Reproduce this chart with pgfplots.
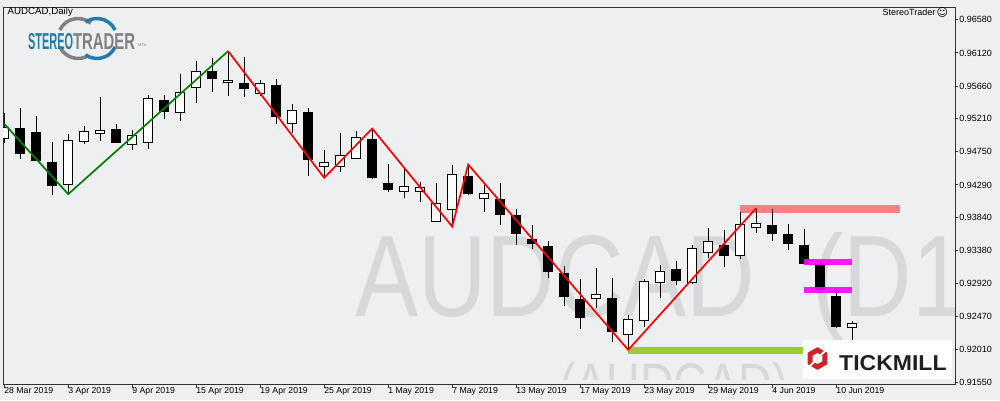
\documentclass[border=0pt]{standalone}
\usepackage{fontspec}
\setmainfont{Liberation Sans}
\newfontfamily\dejavu{DejaVu Sans}
\usepackage{pgfplots}
\usepackage{pgfplotstable}
\pgfplotsset{compat=1.18}
\definecolor{bg}{RGB}{238,239,241}
\definecolor{axc}{RGB}{50,50,50}
\definecolor{wm}{RGB}{214,216,217}
\definecolor{zzgreen}{RGB}{0,128,0}
\definecolor{salmon}{RGB}{255,128,128}
\definecolor{limeg}{RGB}{154,205,50}
\definecolor{stblue}{RGB}{38,124,168}
\definecolor{stgray}{RGB}{128,128,128}
\definecolor{tmred}{RGB}{205,35,45}
\definecolor{tmtext}{RGB}{35,31,32}
\definecolor{magb}{RGB}{255,0,255}

\pgfplotstableread{
i O H L C
0 0.94939 0.95290 0.94874 0.95086
4 0.94301 0.94995 0.94167 0.94912
5 0.94898 0.95110 0.94864 0.95036
6 0.95009 0.95512 0.94906 0.95050
8 0.94846 0.95054 0.94773 0.94981
9 0.94884 0.95540 0.94795 0.95494
11 0.95300 0.95827 0.95179 0.95577
12 0.95647 0.96011 0.95433 0.95868
14 0.95716 0.96150 0.95522 0.95744
16 0.95563 0.95748 0.95526 0.95702
18 0.95147 0.95411 0.95017 0.95328
20 0.94551 0.94777 0.94389 0.94606
21 0.94551 0.95013 0.94476 0.94704
22 0.94662 0.95036 0.94648 0.94953
25 0.94204 0.94509 0.94116 0.94274
26 0.94204 0.94333 0.94060 0.94260
27 0.93788 0.94324 0.93788 0.94038
28 0.93955 0.94565 0.93713 0.94440
30 0.94107 0.94292 0.93917 0.94171
37 0.92720 0.93141 0.92590 0.92776
39 0.92216 0.92485 0.92003 0.92429
40 0.92415 0.92988 0.92322 0.92946
41 0.92942 0.93182 0.92729 0.93095
43 0.92942 0.93460 0.92923 0.93414
44 0.93349 0.93695 0.93283 0.93511
46 0.93307 0.93917 0.93270 0.93747
47 0.93695 0.93963 0.93630 0.93755
53 0.92318 0.92406 0.92119 0.92374
}\whites

\pgfplotstableread{
i O H L C
1 0.95078 0.95360 0.94656 0.94726
2 0.95013 0.95249 0.94625 0.94629
3 0.94597 0.94888 0.94157 0.94287
7 0.95054 0.95138 0.94878 0.94878
10 0.95466 0.95536 0.95211 0.95314
13 0.95859 0.96057 0.95586 0.95766
15 0.95692 0.96067 0.95516 0.95633
17 0.95665 0.95766 0.95142 0.95239
19 0.95290 0.95360 0.94421 0.94643
23 0.94916 0.95072 0.94379 0.94393
24 0.94306 0.94583 0.94195 0.94232
29 0.94403 0.94573 0.94149 0.94171
31 0.94093 0.94319 0.93741 0.93880
32 0.93862 0.93959 0.93464 0.93616
33 0.93539 0.93737 0.93408 0.93478
34 0.93432 0.93515 0.93002 0.93089
35 0.93067 0.93168 0.92614 0.92743
36 0.92697 0.92988 0.92299 0.92451
38 0.92720 0.93002 0.92119 0.92257
42 0.93113 0.93238 0.92909 0.92965
45 0.93455 0.93668 0.93159 0.93307
48 0.93733 0.93963 0.93515 0.93622
49 0.93608 0.93751 0.93390 0.93478
50 0.93446 0.93686 0.93206 0.93206
51 0.93192 0.93238 0.92808 0.92845
52 0.92748 0.92845 0.92313 0.92327
}\blacks

\begin{document}
\begin{tikzpicture}[x=1pt,y=1pt]
\useasboundingbox (0,0) rectangle (1000,400);
\fill[bg] (0,0) rectangle (1000,400);
% watermark
\begin{scope}
\clip (2,21) rectangle (954,398);
\node[anchor=base west, inner sep=0pt, text=wm, font=\fontsize{116}{116}\selectfont, xscale=0.817] at (355,84) {AUDCAD};
\node[anchor=base west, inner sep=0pt, text=wm, font=\fontsize{116}{116}\selectfont, xscale=0.817] at (812,84) {(D1};
\node[anchor=base west, inner sep=0pt, text=wm, font=\fontsize{57}{57}\selectfont, xscale=0.817] at (560,-3) {(AUDCAD)};
\end{scope}

\begin{axis}[
  at={(2,21)}, anchor=south west, scale only axis,
  width=952pt, height=377pt,
  xmin=-0.0625, xmax=59.4375, ymin=0.91518, ymax=0.96746,
  axis line style={draw=axc, line width=1pt},
  xtick={0,4,...,52},
  xticklabels={28 Mar 2019,3 Apr 2019,9 Apr 2019,15 Apr 2019,19 Apr 2019,25 Apr 2019,1 May 2019,7 May 2019,13 May 2019,17 May 2019,23 May 2019,29 May 2019,4 Jun 2019,10 Jun 2019},
  ytick={0.91550,0.92010,0.92470,0.92920,0.93380,0.93840,0.94290,0.94750,0.95210,0.95660,0.96120,0.96580},
  yticklabels={0.91550,0.92010,0.92470,0.92920,0.93380,0.93840,0.94290,0.94750,0.95210,0.95660,0.96120,0.96580},
  xtick pos=left, xticklabel pos=left,
  ytick pos=right, yticklabel pos=right,
  tick align=outside, major tick length=3pt,
  tick style={draw=axc, line width=1pt},
  xticklabel style={anchor=north west, inner sep=0pt, font=\fontsize{8.7}{9}\selectfont, text=black, yshift=1pt},
  yticklabel style={anchor=west, inner sep=0pt, font=\fontsize{9}{9}\selectfont, text=black, xshift=1pt},
  clip=true,
  every axis plot/.append style={mark=none},
]
% resistance / support bands
\addplot[salmon, line width=8pt, forget plot] coordinates {(46,0.93963) (56,0.93963)};
\addplot[limeg, line width=7pt, forget plot] coordinates {(39,0.92000) (50,0.92000)};
% wicks
\addplot[draw=none, mark=none, forget plot,
  error bars/.cd, y dir=both, y explicit, error mark=none,
  error bar style={draw=black, line width=1pt}]
  table[x=i, y expr={(\thisrow{H}+\thisrow{L})/2}, y error expr={(\thisrow{H}-\thisrow{L})/2}] {\whites};
\addplot[draw=none, mark=none, forget plot,
  error bars/.cd, y dir=both, y explicit, error mark=none,
  error bar style={draw=black, line width=1pt}]
  table[x=i, y expr={(\thisrow{H}+\thisrow{L})/2}, y error expr={(\thisrow{H}-\thisrow{L})/2}] {\blacks};
% bodies
\addplot[draw=none, mark=none, forget plot,
  error bars/.cd, y dir=both, y explicit, error mark=none,
  error bar style={draw=black, line width=10pt}]
  table[x=i, y expr={(\thisrow{O}+\thisrow{C})/2}, y error expr={abs(\thisrow{C}-\thisrow{O})/2+0.00007}] {\blacks};
\addplot[draw=none, mark=none, forget plot,
  error bars/.cd, y dir=both, y explicit, error mark=none,
  error bar style={draw=black, line width=10pt}]
  table[x=i, y expr={(\thisrow{O}+\thisrow{C})/2}, y error expr={abs(\thisrow{C}-\thisrow{O})/2+0.00007}] {\whites};
\addplot[draw=none, mark=none, forget plot,
  error bars/.cd, y dir=both, y explicit, error mark=none,
  error bar style={draw=white, line width=8pt}]
  table[x=i, y expr={(\thisrow{O}+\thisrow{C})/2}, y error expr={abs(\thisrow{C}-\thisrow{O})/2-0.00007}] {\whites};
% magenta bands
\addplot[magb, opacity=0.9, line width=6pt, forget plot] coordinates {(50,0.93221) (53,0.93221)};
\addplot[magb, opacity=0.9, line width=6pt, forget plot] coordinates {(50,0.92836) (53,0.92836)};
% zigzag
\addplot[zzgreen, line width=1.7pt, forget plot] coordinates {(0,0.95138) (4,0.94163) (14,0.96146)};
\addplot[red, line width=1.7pt, forget plot] coordinates {(14,0.96146) (20,0.94389) (23,0.95072) (28,0.93713) (29,0.94573) (39,0.92003) (47,0.93969)};
\end{axis}

% top texts
\node[anchor=base west, inner sep=0pt, font=\fontsize{9.7}{10}\selectfont, text=black] at (7.5,385.5) {AUDCAD,Daily};
\node[anchor=base west, inner sep=0pt, font=\fontsize{9}{9}\selectfont, text=black] at (882.5,384) {StereoTrader};
\node[anchor=base west, inner sep=0pt, font=\dejavu\fontsize{11}{11}\selectfont, text=black] at (936.5,383.5) {☺};

% StereoTrader logo
\draw[stgray, line width=3.5pt] (78,361.5) ++(50:20) arc[start angle=50, end angle=155, radius=20];
\draw[stgray, line width=3.5pt] (78,361.5) ++(205:20) arc[start angle=205, end angle=300, radius=20];
\draw[stblue, line width=3.5pt] (97,361.5) ++(25:20) arc[start angle=25, end angle=125, radius=20];
\draw[stblue, line width=3.5pt] (97,361.5) ++(235:20) arc[start angle=235, end angle=335, radius=20];
\node[anchor=base west, inner sep=0pt, font=\bfseries\fontsize{23}{23}\selectfont, text=stblue, xscale=0.476] at (28,350.7) {STEREO};
\node[anchor=base west, inner sep=0pt, font=\bfseries\fontsize{23}{23}\selectfont, text=stgray, xscale=0.647] at (73,350.7) {TRADER};
\node[anchor=base west, inner sep=0pt, font=\fontsize{4}{4}\selectfont, text=stgray] at (138,353) {MT4};

% Tickmill logo
\fill[white] (803,21.3) rectangle (952,60);
\draw[tmred, line width=5pt, line join=miter] (817.5,41.5) +(90:8.5) -- +(150:8.5) -- +(210:8.5) -- +(270:8.5) -- +(330:8.5) -- +(30:8.5) -- cycle;
\draw[white, line width=2pt] (817.5,41.5) +(45:4) -- +(45:14);
\draw[white, line width=2pt] (817.5,41.5) +(225:4) -- +(225:14);
\node[anchor=base west, inner sep=0pt, font=\bfseries\fontsize{21.5}{21.5}\selectfont, text=tmtext, xscale=1.07] at (839,30) {TICKMILL};
\end{tikzpicture}
\end{document}
